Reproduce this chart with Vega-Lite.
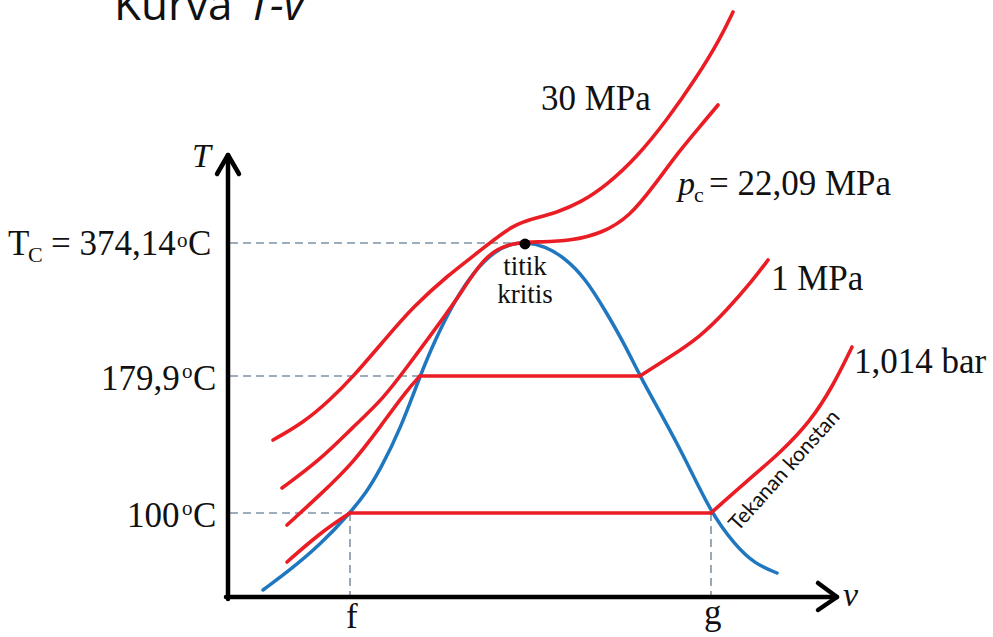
{
  "$schema": "https://vega.github.io/schema/vega-lite/v6.json",
  "width": 993,
  "height": 637,
  "autosize": {"type": "none"},
  "padding": 0,
  "background": "white",
  "config": {"view": {"stroke": null}},
  "datasets": {
    "dashes": [
      {"v": 230, "T": 394, "v2": 522, "T2": 394},
      {"v": 230, "T": 261, "v2": 420, "T2": 261},
      {"v": 230, "T": 124, "v2": 350, "T2": 124},
      {"v": 350, "T": 124, "v2": 350, "T2": 40},
      {"v": 711, "T": 124, "v2": 711, "T2": 40}
    ],
    "dome": [
      {"v": 263, "T": 47}, {"v": 290, "T": 67}, {"v": 320, "T": 92}, {"v": 350, "T": 124},
      {"v": 366, "T": 144}, {"v": 380, "T": 167}, {"v": 400, "T": 207}, {"v": 420, "T": 261},
      {"v": 435, "T": 297}, {"v": 455, "T": 337}, {"v": 475, "T": 367}, {"v": 495, "T": 386},
      {"v": 510, "T": 393}, {"v": 525, "T": 395}, {"v": 545, "T": 391}, {"v": 565, "T": 379},
      {"v": 585, "T": 359}, {"v": 605, "T": 327}, {"v": 625, "T": 292}, {"v": 640, "T": 261},
      {"v": 660, "T": 225}, {"v": 685, "T": 179}, {"v": 711, "T": 124}, {"v": 735, "T": 92},
      {"v": 755, "T": 73}, {"v": 777, "T": 64}
    ],
    "isobars": [
      {"seg": "30a", "v": 273, "T": 197}, {"seg": "30a", "v": 303, "T": 214}, {"seg": "30a", "v": 330, "T": 237},
      {"seg": "30a", "v": 353, "T": 260}, {"seg": "30a", "v": 387, "T": 300}, {"seg": "30a", "v": 413, "T": 330},
      {"seg": "30a", "v": 447, "T": 361}, {"seg": "30a", "v": 480, "T": 386}, {"seg": "30a", "v": 513, "T": 413},
      {"seg": "30a", "v": 540, "T": 420}, {"seg": "30a", "v": 555, "T": 424}, {"seg": "30a", "v": 580, "T": 434},
      {"seg": "30a", "v": 607, "T": 452}, {"seg": "30a", "v": 637, "T": 480}, {"seg": "30a", "v": 667, "T": 517},
      {"seg": "30a", "v": 697, "T": 560}, {"seg": "30a", "v": 720, "T": 598}, {"seg": "30a", "v": 733, "T": 625},
      {"seg": "pc", "v": 282, "T": 149}, {"seg": "pc", "v": 320, "T": 177}, {"seg": "pc", "v": 353, "T": 210},
      {"seg": "pc", "v": 383, "T": 238}, {"seg": "pc", "v": 407, "T": 270}, {"seg": "pc", "v": 433, "T": 305},
      {"seg": "pc", "v": 455, "T": 335}, {"seg": "pc", "v": 480, "T": 374}, {"seg": "pc", "v": 497, "T": 389},
      {"seg": "pc", "v": 520, "T": 395}, {"seg": "pc", "v": 540, "T": 395}, {"seg": "pc", "v": 570, "T": 396},
      {"seg": "pc", "v": 603, "T": 404}, {"seg": "pc", "v": 630, "T": 421}, {"seg": "pc", "v": 653, "T": 450},
      {"seg": "pc", "v": 680, "T": 487}, {"seg": "pc", "v": 703, "T": 514}, {"seg": "pc", "v": 718, "T": 532},
      {"seg": "1a", "v": 287, "T": 112}, {"seg": "1a", "v": 320, "T": 142}, {"seg": "1a", "v": 353, "T": 174},
      {"seg": "1a", "v": 380, "T": 210}, {"seg": "1a", "v": 407, "T": 247}, {"seg": "1a", "v": 420, "T": 261},
      {"seg": "1b", "v": 420, "T": 261}, {"seg": "1b", "v": 640, "T": 261},
      {"seg": "1c", "v": 640, "T": 261}, {"seg": "1c", "v": 670, "T": 280}, {"seg": "1c", "v": 700, "T": 300},
      {"seg": "1c", "v": 727, "T": 327}, {"seg": "1c", "v": 753, "T": 357}, {"seg": "1c", "v": 768, "T": 377},
      {"seg": "ba", "v": 287, "T": 75}, {"seg": "ba", "v": 320, "T": 104}, {"seg": "ba", "v": 350, "T": 124},
      {"seg": "bb", "v": 350, "T": 124}, {"seg": "bb", "v": 711, "T": 124},
      {"seg": "bc", "v": 711, "T": 124}, {"seg": "bc", "v": 747, "T": 156}, {"seg": "bc", "v": 780, "T": 184},
      {"seg": "bc", "v": 810, "T": 215}, {"seg": "bc", "v": 833, "T": 251}, {"seg": "bc", "v": 852, "T": 290}
    ],
    "axes": [
      {"v": 228, "T": 38, "v2": 228, "T2": 480},
      {"v": 226, "T": 40, "v2": 834, "T2": 40},
      {"v": 217, "T": 463, "v2": 228, "T2": 482},
      {"v": 239, "T": 463, "v2": 228, "T2": 482},
      {"v": 818, "T": 54, "v2": 837, "T2": 40},
      {"v": 818, "T": 27, "v2": 837, "T2": 40}
    ],
    "critical": [{"v": 525, "T": 393}],
    "serifBig": [
      {"v": 8, "T": 382, "label": "T"},
      {"v": 51, "T": 382, "label": "= 374,14"},
      {"v": 188, "T": 382, "label": "C"},
      {"v": 101, "T": 247, "label": "179,9"},
      {"v": 193, "T": 247, "label": "C"},
      {"v": 127, "T": 110, "label": "100"},
      {"v": 193, "T": 110, "label": "C"},
      {"v": 541, "T": 527, "label": "30 MPa"},
      {"v": 771, "T": 347, "label": "1 MPa"},
      {"v": 854, "T": 264, "label": "1,014 bar"},
      {"v": 709, "T": 442, "label": "= 22,09 MPa"},
      {"v": 346, "T": 9, "label": "f"},
      {"v": 704, "T": 13, "label": "g"}
    ],
    "serifSup": [
      {"v": 177, "T": 390, "label": "o"},
      {"v": 182, "T": 259, "label": "o"},
      {"v": 182, "T": 122, "label": "o"}
    ],
    "serifSub": [
      {"v": 28, "T": 375, "label": "C"},
      {"v": 694, "T": 435, "label": "c"}
    ],
    "serifItalic": [
      {"v": 192, "T": 470, "label": "T"},
      {"v": 678, "T": 442, "label": "p"},
      {"v": 843, "T": 31, "label": "v"}
    ],
    "serifSmall": [
      {"v": 525, "T": 362, "label": "titik"},
      {"v": 525, "T": 334, "label": "kritis"}
    ],
    "titleNormal": [{"v": 114, "T": 617, "label": "Kurva"}],
    "titleItalic": [{"v": 248, "T": 617, "label": "T-v"}],
    "note": [{"v": 738, "T": 105, "label": "Tekanan konstan"}]
  },
  "layer": [
    {
      "data": {"name": "dashes"},
      "mark": {"type": "rule", "color": "#7f93a6", "strokeWidth": 1.6, "strokeDash": [8, 5]},
      "encoding": {
        "x": {"field": "v", "type": "quantitative", "scale": {"domain": [0, 993], "nice": false, "zero": false}, "axis": null},
        "y": {"field": "T", "type": "quantitative", "scale": {"domain": [0, 637], "nice": false, "zero": false}, "axis": null},
        "x2": {"field": "v2"},
        "y2": {"field": "T2"}
      }
    },
    {
      "data": {"name": "dome"},
      "mark": {"type": "line", "color": "#1f77bf", "strokeWidth": 3.5, "interpolate": "basis", "strokeCap": "round"},
      "encoding": {
        "x": {"field": "v", "type": "quantitative"},
        "y": {"field": "T", "type": "quantitative"}
      }
    },
    {
      "data": {"name": "isobars"},
      "mark": {"type": "line", "color": "#ea1c24", "strokeWidth": 3.6, "interpolate": "basis", "strokeCap": "round"},
      "encoding": {
        "x": {"field": "v", "type": "quantitative"},
        "y": {"field": "T", "type": "quantitative"},
        "detail": {"field": "seg", "type": "nominal"}
      }
    },
    {
      "data": {"name": "axes"},
      "mark": {"type": "rule", "color": "black", "strokeWidth": 4.5, "strokeCap": "round"},
      "encoding": {
        "x": {"field": "v", "type": "quantitative"},
        "y": {"field": "T", "type": "quantitative"},
        "x2": {"field": "v2"},
        "y2": {"field": "T2"}
      }
    },
    {
      "data": {"name": "critical"},
      "mark": {"type": "point", "filled": true, "color": "black", "size": 120, "opacity": 1},
      "encoding": {
        "x": {"field": "v", "type": "quantitative"},
        "y": {"field": "T", "type": "quantitative"}
      }
    },
    {
      "data": {"name": "serifBig"},
      "mark": {"type": "text", "font": "Liberation Serif", "fontSize": 35, "align": "left", "baseline": "alphabetic", "color": "#111"},
      "encoding": {
        "x": {"field": "v", "type": "quantitative"},
        "y": {"field": "T", "type": "quantitative"},
        "text": {"field": "label"}
      }
    },
    {
      "data": {"name": "serifSup"},
      "mark": {"type": "text", "font": "Liberation Serif", "fontSize": 21, "align": "left", "baseline": "alphabetic", "color": "#111"},
      "encoding": {
        "x": {"field": "v", "type": "quantitative"},
        "y": {"field": "T", "type": "quantitative"},
        "text": {"field": "label"}
      }
    },
    {
      "data": {"name": "serifSub"},
      "mark": {"type": "text", "font": "Liberation Serif", "fontSize": 22, "align": "left", "baseline": "alphabetic", "color": "#111"},
      "encoding": {
        "x": {"field": "v", "type": "quantitative"},
        "y": {"field": "T", "type": "quantitative"},
        "text": {"field": "label"}
      }
    },
    {
      "data": {"name": "serifItalic"},
      "mark": {"type": "text", "font": "Liberation Serif", "fontSize": 34, "fontStyle": "italic", "align": "left", "baseline": "alphabetic", "color": "#111"},
      "encoding": {
        "x": {"field": "v", "type": "quantitative"},
        "y": {"field": "T", "type": "quantitative"},
        "text": {"field": "label"}
      }
    },
    {
      "data": {"name": "serifSmall"},
      "mark": {"type": "text", "font": "Liberation Serif", "fontSize": 27, "align": "center", "baseline": "alphabetic", "color": "#111"},
      "encoding": {
        "x": {"field": "v", "type": "quantitative"},
        "y": {"field": "T", "type": "quantitative"},
        "text": {"field": "label"}
      }
    },
    {
      "data": {"name": "titleNormal"},
      "mark": {"type": "text", "font": "Open Sans", "fontSize": 44, "align": "left", "baseline": "alphabetic", "color": "#111"},
      "encoding": {
        "x": {"field": "v", "type": "quantitative"},
        "y": {"field": "T", "type": "quantitative"},
        "text": {"field": "label"}
      }
    },
    {
      "data": {"name": "titleItalic"},
      "mark": {"type": "text", "font": "Open Sans", "fontSize": 44, "fontStyle": "italic", "align": "left", "baseline": "alphabetic", "color": "#111"},
      "encoding": {
        "x": {"field": "v", "type": "quantitative"},
        "y": {"field": "T", "type": "quantitative"},
        "text": {"field": "label"}
      }
    },
    {
      "data": {"name": "note"},
      "mark": {"type": "text", "font": "Lato", "fontSize": 21, "align": "left", "baseline": "alphabetic", "angle": 312, "color": "#111"},
      "encoding": {
        "x": {"field": "v", "type": "quantitative"},
        "y": {"field": "T", "type": "quantitative"},
        "text": {"field": "label"}
      }
    }
  ]
}
